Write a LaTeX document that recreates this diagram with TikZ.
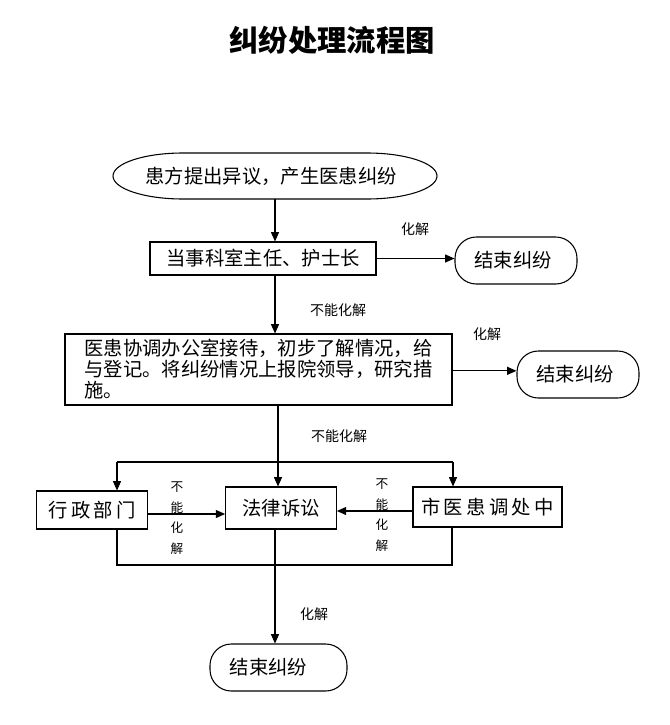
\documentclass[tikz,border=0pt]{standalone}
\usepackage{fontspec}
\setmainfont{Noto Sans CJK SC}
\usetikzlibrary{shapes.geometric,arrows.meta}
\begin{document}
\begin{tikzpicture}[x=0.75pt,y=-0.75pt,
  every node/.style={inner sep=0pt, font=\fontsize{14.5}{17}\selectfont},
  box/.style={draw, line width=0.8pt, rectangle},
  term/.style={draw, line width=0.8pt, rounded corners=16pt, minimum width=91.5pt, minimum height=35.25pt},
  oval/.style={rectangle, minimum width=243pt, minimum height=34.5pt},
  arr/.style={line width=0.8pt, -{Triangle[length=7pt,width=6pt]}},
  ln/.style={line width=0.8pt},
  lab/.style={font=\fontsize{10.5}{12}\selectfont},
  vlab/.style={font=\fontsize{9.5}{15.5}\selectfont, align=center}]
\useasboundingbox (0,0) rectangle (669,725);
% title
\node[font=\fontsize{22}{24}\selectfont\bfseries] (title) at (332,40) {纠纷处理流程图};
% nodes
\node[oval] (e1) at (275,176) {\hspace*{-6pt}患方提出异议，产生医患纠纷};
\draw[ln] (183,153) .. controls (144.3,153) and (113,163.3) .. (113,176)
  .. controls (113,188.7) and (144.3,199) .. (183,199) -- (367,199)
  .. controls (405.7,199) and (437,188.7) .. (437,176)
  .. controls (437,163.3) and (405.7,153) .. (367,153) -- cycle;
\node[box, minimum width=169.5pt, minimum height=24.75pt] (b2) at (263,258.5) {当事科室主任、护士长};
\node[term] (end1) at (516,260.5) {\hspace*{-4.5pt}结束纠纷};
\node[box, minimum width=290.25pt, minimum height=53.25pt, align=left, font=\fontsize{14.5}{15.75}\selectfont] (b3) at (258.5,369.5)
  {医患协调办公室接待，初步了解情况，给\\与登记。将纠纷情况上报院领导，研究措\\施。};
\node[term] (end2) at (578,374.5) {\hspace*{-4.5pt}结束纠纷};
\node[box, minimum width=83pt, minimum height=28.5pt] (xz) at (92,510) {行\,政\,部\,门};
\node[box, minimum width=83pt, minimum height=31.5pt] (fl) at (281,508) {法律诉讼};
\node[box, minimum width=111.75pt, minimum height=30pt] (sy) at (487.5,507) {市\,医\,患\,调\,处\,中};
\node[term, minimum width=102.75pt] (end3) at (278.5,667.5) {\hspace*{-15pt}结束纠纷};
% labels
\node[lab] (l1) at (415,229) {化解};
\node[lab] (l2) at (338,310) {不能化解};
\node[lab] (l3) at (487,334) {化解};
\node[lab] (l4) at (339,436) {不能化解};
\node[lab] (l5) at (314,614) {化解};
\node[vlab] (v1) at (177,518) {不\\能\\化\\解};
\node[vlab] (v2) at (382,515) {不\\能\\化\\解};
% junction coordinates
\coordinate (jL) at (117,462);
\coordinate (jR) at (453,462);
\coordinate (bL) at (117,565);
\coordinate (bR) at (452,565);
\coordinate (fin) at (278,405);
\coordinate (fout) at (275,529);
% connectors
\draw[arr] (e1.south) -- (e1.south |- b2.north);
\draw[arr] (b2.east) -- (b2.east -| end1.west);
\draw[arr] (e1.south |- b2.south) -- (e1.south |- b3.north);
\draw[arr] ([yshift=-1pt]b3.east) -- ([yshift=-1pt]b3.east -| end2.west);
\draw[arr] (fin) -- (fin |- fl.north);
\draw[ln] (jL) -- (jR);
\draw[arr] (jL) -- (jL |- xz.north);
\draw[arr] (jR) -- (jR |- sy.north);
\draw[arr] ([yshift=-3pt]xz.east) -- ([yshift=-3pt]xz.east -| fl.west);
\draw[arr] ([yshift=-3pt]sy.west) -- ([yshift=-3pt]sy.west -| fl.east);
\draw[ln] (jL |- xz.south) -- (bL) -- (bR) -- (bR |- sy.south);
\draw[arr] (fout) -- (fout |- end3.north);
\end{tikzpicture}
\end{document}
